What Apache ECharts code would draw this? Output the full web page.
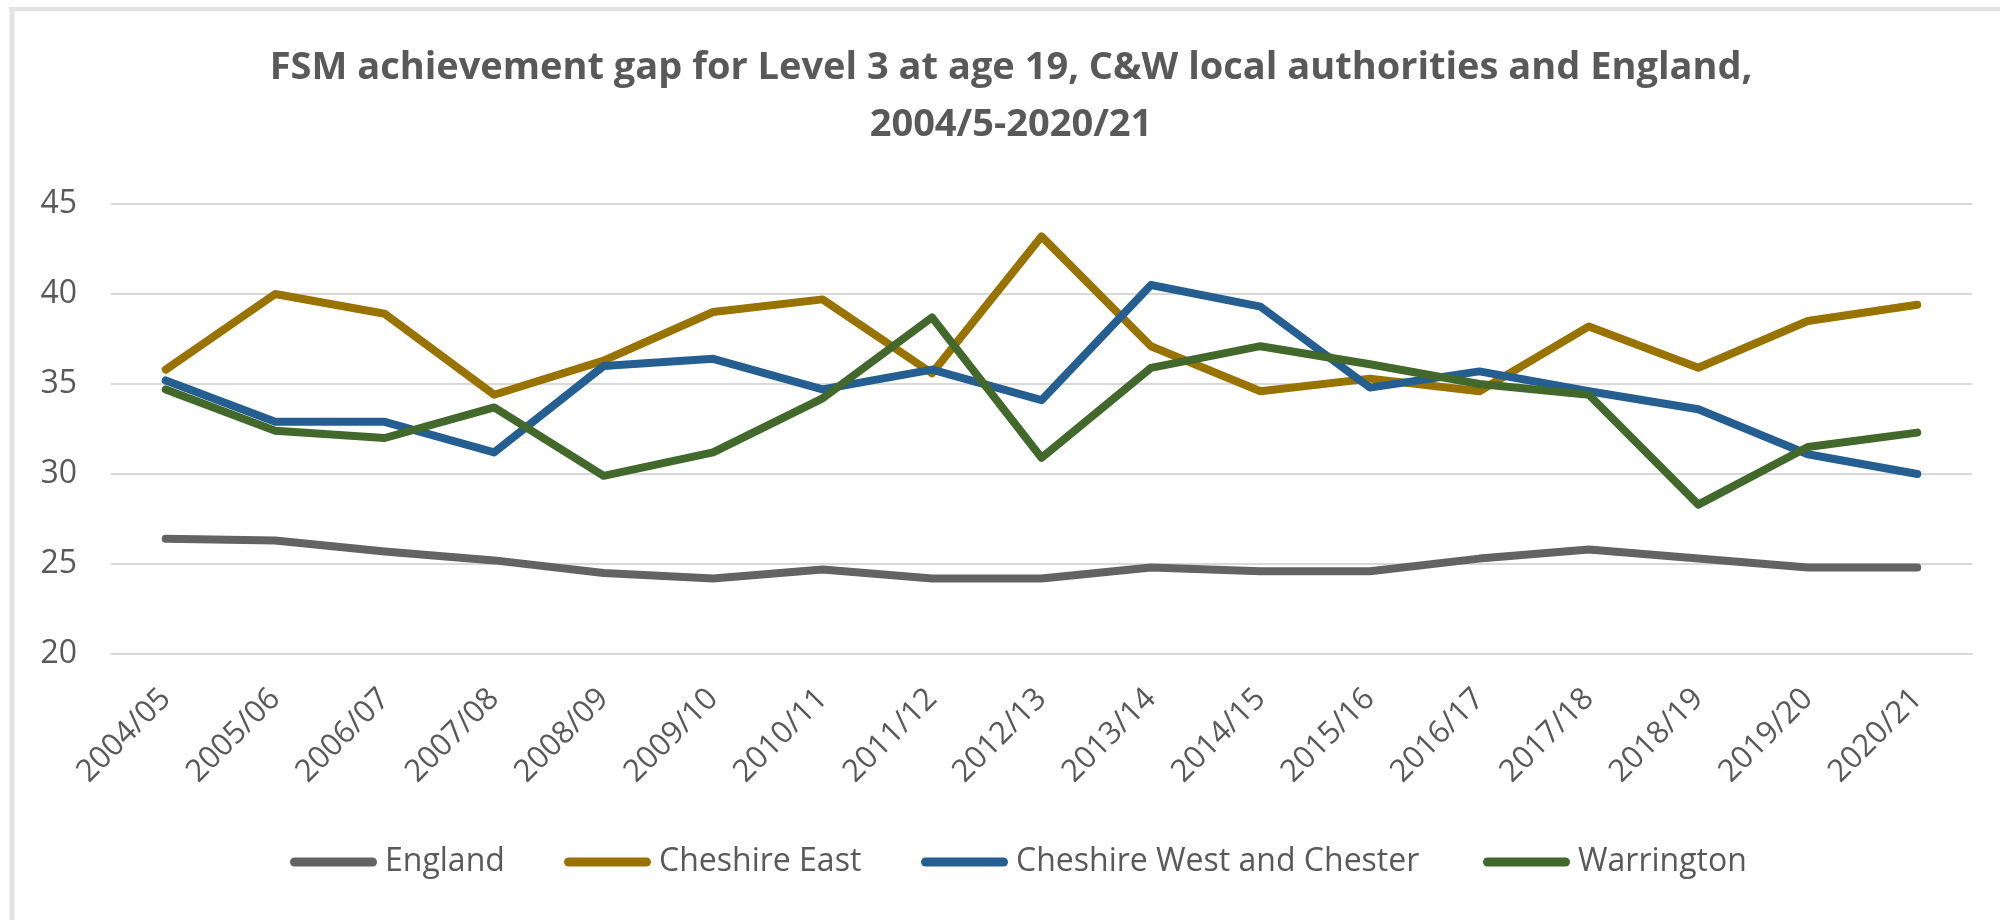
<!DOCTYPE html>
<html>
<head>
<meta charset="utf-8">
<script src="https://cdn.jsdelivr.net/npm/echarts@6/dist/echarts.min.js"></script>
<style>
html,body{margin:0;padding:0;background:#fff;}
#chart{width:2000px;height:920px;}
</style>
</head>
<body>
<div id="chart"></div>
<script>
const categories = ['2004/05','2005/06','2006/07','2007/08','2008/09','2009/10','2010/11','2011/12','2012/13','2013/14','2014/15','2015/16','2016/17','2017/18','2018/19','2019/20','2020/21'];
const england = [26.4, 26.3, 25.7, 25.2, 24.5, 24.2, 24.7, 24.2, 24.2, 24.8, 24.6, 24.6, 25.3, 25.8, 25.3, 24.8, 24.8];
const cheshireEast = [35.8, 40.0, 38.9, 34.4, 36.3, 39.0, 39.7, 35.6, 43.2, 37.1, 34.6, 35.3, 34.6, 38.2, 35.9, 38.5, 39.4];
const cheshireWest = [35.2, 32.9, 32.9, 31.2, 36.0, 36.4, 34.7, 35.8, 34.1, 40.5, 39.3, 34.8, 35.7, 34.6, 33.6, 31.1, 30.0];
const warrington = [34.7, 32.4, 32.0, 33.7, 29.9, 31.2, 34.2, 38.7, 30.9, 35.9, 37.1, 36.1, 35.0, 34.4, 28.3, 31.5, 32.3];
const seriesNames = ['England', 'Cheshire East', 'Cheshire West and Chester', 'Warrington'];
const yTicks = {min: 20, max: 45, interval: 5};

const colors = ['#636363', '#997300', '#255E91', '#43682B'];
const seriesData = [england, cheshireEast, cheshireWest, warrington];
const legendLefts = [290, 564, 921, 1483];
const capsule = 'path://M4.5,0 H82.5 A4.5,4.5 0 0 1 82.5,9 H4.5 A4.5,4.5 0 0 1 4.5,0 Z';
const font = '"Open Sans", "Liberation Sans", sans-serif';

const chart = echarts.init(document.getElementById('chart'), null, {renderer: 'canvas'});
chart.setOption({
  backgroundColor: '#ffffff',
  animation: false,
  title: {
    text: 'FSM achievement gap for Level 3 at age 19, C&W local authorities and England,\n2004/5-2020/21',
    left: 1011,
    top: 40,
    padding: 0,
    textAlign: 'center',
    textStyle: {
      fontFamily: font,
      fontWeight: 'bold',
      fontSize: 38,
      lineHeight: 57,
      color: '#595959'
    }
  },
  graphic: [
    {type: 'line', shape: {x1: 9, y1: 9, x2: 2000, y2: 9}, style: {stroke: '#E3E3E3', lineWidth: 4}, silent: true},
    {type: 'line', shape: {x1: 12, y1: 9, x2: 12, y2: 920}, style: {stroke: '#E3E3E3', lineWidth: 5}, silent: true}
  ],
  legend: seriesNames.map((n, i) => ({
    data: [n],
    left: legendLefts[i],
    top: 843,
    padding: 0,
    itemWidth: 87,
    itemHeight: 9,
    icon: capsule,
    selectedMode: false,
    textStyle: {
      fontFamily: font,
      fontSize: 32,
      lineHeight: 38,
      color: '#595959',
      padding: [0, 0, 0, 3]
    }
  })),
  grid: {
    left: 111,
    right: 28,
    top: 204,
    bottom: 266,
    containLabel: false
  },
  xAxis: {
    type: 'category',
    data: categories,
    boundaryGap: true,
    axisLine: {show: true, lineStyle: {color: '#D9D9D9', width: 2}},
    axisTick: {show: false},
    axisLabel: {
      rotate: 45,
      margin: 40,
      interval: 0,
      fontFamily: font,
      fontSize: 31,
      color: '#595959'
    },
    splitLine: {show: false}
  },
  yAxis: {
    type: 'value',
    min: yTicks.min,
    max: yTicks.max,
    interval: yTicks.interval,
    axisLine: {show: false},
    axisTick: {show: false},
    axisLabel: {
      margin: 34,
      fontFamily: font,
      fontSize: 32,
      color: '#595959'
    },
    splitLine: {lineStyle: {color: '#D9D9D9', width: 2}}
  },
  series: seriesNames.map((n, i) => ({
    name: n,
    type: 'line',
    data: seriesData[i],
    symbol: 'none',
    showSymbol: false,
    lineStyle: {color: colors[i], width: 8, cap: 'round', join: 'round'},
    itemStyle: {color: colors[i]},
    z: 2 + i
  }))
});
</script>
</body>
</html>
